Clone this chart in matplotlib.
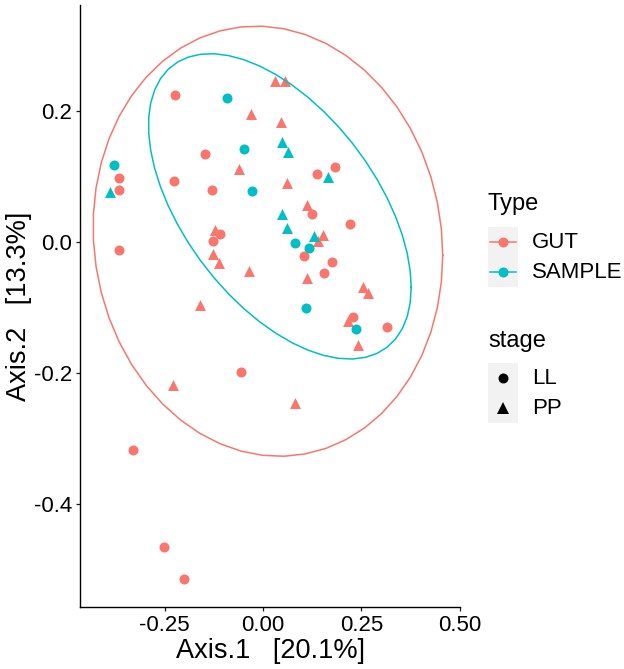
import numpy as np
import matplotlib.pyplot as plt
from matplotlib.lines import Line2D
from matplotlib.patches import Rectangle

plt.rcParams['font.family'] = ['Liberation Sans', 'DejaVu Sans']

# --- data ---
# GUT, stage LL (circles)
gut_ll_x = [-0.224, -0.147, -0.366, -0.366, -0.226, -0.130, -0.109, -0.127, -0.366,
            0.137, 0.183, 0.125, 0.221, 0.104, 0.175, 0.155, 0.229, 0.315,
            -0.056, -0.331, -0.252, -0.201]
gut_ll_y = [0.225, 0.134, 0.098, 0.080, 0.093, 0.080, 0.013, 0.002, -0.012,
            0.104, 0.115, 0.043, 0.028, -0.021, -0.030, -0.047, -0.114, -0.129,
            -0.198, -0.318, -0.465, -0.514]
# GUT, stage PP (triangles)
gut_pp_x = [0.031, 0.056, -0.031, 0.046, -0.061, 0.061, 0.112, 0.153, 0.140,
            -0.122, -0.127, -0.112, -0.036, 0.112, 0.254, 0.267, 0.216, 0.242,
            -0.160, -0.229, 0.081]
gut_pp_y = [0.246, 0.246, 0.195, 0.184, 0.112, 0.091, 0.057, 0.011, 0.002,
            0.019, -0.018, -0.032, -0.044, -0.055, -0.068, -0.077, -0.120, -0.157,
            -0.096, -0.218, -0.246]
# SAMPLE, stage LL
smp_ll_x = [-0.092, -0.048, -0.379, -0.028, 0.081, 0.117, 0.109, 0.236]
smp_ll_y = [0.220, 0.142, 0.118, 0.078, -0.001, -0.009, -0.100, -0.132]
# SAMPLE, stage PP
smp_pp_x = [-0.389, 0.048, 0.064, 0.165, 0.048, 0.061, 0.130]
smp_pp_y = [0.077, 0.153, 0.138, 0.100, 0.043, 0.022, 0.010]

types = ["GUT", "SAMPLE"]
stages = ["LL", "PP"]
type_cols = {"GUT": "#F8766D", "SAMPLE": "#00BFC4"}
stage_marks = {"LL": "o", "PP": "^"}
stage_size = {"LL": 52, "PP": 62}

groups = {
    ("GUT", "LL"): (gut_ll_x, gut_ll_y),
    ("GUT", "PP"): (gut_pp_x, gut_pp_y),
    ("SAMPLE", "LL"): (smp_ll_x, smp_ll_y),
    ("SAMPLE", "PP"): (smp_pp_x, smp_pp_y),
}


# robust t covariance, same as MASS::cov.trob (used by stat_ellipse type "t")
def cov_trob(pts, nu=5, maxit=25, tol=0.01):
    n, p = pts.shape
    loc = pts.mean(axis=0)
    w = np.ones(n)
    for it in range(maxit):
        w0 = w
        X = pts - loc
        _, d, vt = np.linalg.svd(np.sqrt(w / w.sum())[:, None] * X, full_matrices=False)
        wX = X @ vt.T @ np.diag(1 / d)
        Q = (wX ** 2).sum(axis=1)
        w = (nu + p) / (nu + Q)
        loc = (w[:, None] * pts).sum(axis=0) / w.sum()
        if np.all(np.abs(w - w0) < tol):
            break
    sx = np.sqrt(w)[:, None] * X
    return loc, sx.T @ sx / n


def ellipse(pts, level=0.95, segments=51):
    dfn, dfd = 2, len(pts) - 1
    center, shape = cov_trob(pts)
    chol = np.linalg.cholesky(shape).T
    qf = dfd / 2 * ((1 - level) ** (-2 / dfd) - 1)
    radius = np.sqrt(dfn * qf)
    ang = np.linspace(0, 2 * np.pi, segments + 1)
    circ = np.column_stack([np.cos(ang), np.sin(ang)])
    return center + radius * circ @ chol


W, H = 624, 669
fig = plt.figure(figsize=(W / 100, H / 100), dpi=100)
ax = fig.add_axes([80 / W, 1 - 607 / H, 380 / W, 602 / H])

for (t, s), (gx, gy) in groups.items():
    ax.scatter(gx, gy, s=stage_size[s], marker=stage_marks[s], c=type_cols[t],
               linewidths=0, zorder=2)

for t in types:
    xs = np.concatenate([groups[(t, s)][0] for s in stages])
    ys = np.concatenate([groups[(t, s)][1] for s in stages])
    e = ellipse(np.column_stack([xs, ys]))
    ax.plot(e[:, 0], e[:, 1], color=type_cols[t], lw=1.1, zorder=3)

ax.set_xlim(-0.465, 0.501)
ax.set_ylim(-0.557, 0.362)
ax.set_xticks([-0.25, 0, 0.25, 0.5])
ax.set_xticklabels(["-0.25", "0.00", "0.25", "0.50"])
ax.set_yticks([-0.4, -0.2, 0, 0.2])
ax.set_yticklabels(["-0.4", "-0.2", "0.0", "0.2"])
ax.tick_params(labelsize=16, length=3, width=0.9, pad=2.5, colors="#1a1a1a",
               labelcolor="black")
for side in ["top", "right"]:
    ax.spines[side].set_visible(False)
for side in ["left", "bottom"]:
    ax.spines[side].set_linewidth(1.0)
    ax.spines[side].set_color("black")

fig.text(270 / W, 1 - 651 / H, "Axis.1   [20.1%]", fontsize=19.5,
         ha="center", va="center")
fig.text(19 / W, 1 - 306 / H, "Axis.2   [13.3%]", fontsize=19.5,
         ha="center", va="center", rotation=90)


# legends drawn by hand (ggplot style keys)
def fx(px):
    return px / W


def fy(py):
    return 1 - py / H


fig.text(fx(488), fy(210), "Type", fontsize=17, va="baseline")
fig.patches.append(Rectangle((fx(488), fy(287)), 30 / W, 60 / H,
                             transform=fig.transFigure, fc="#F2F2F2", ec="none"))
for i, t in enumerate(types):
    yy = fy(242 + 30 * i)
    fig.lines.append(Line2D([fx(490), fx(516)], [yy, yy], color=type_cols[t], lw=1.1,
                            transform=fig.transFigure))
    fig.lines.append(Line2D([fx(503)], [yy], marker="o", ms=7.2, color=type_cols[t],
                            mew=0, transform=fig.transFigure))
    fig.text(fx(532), yy, t, fontsize=16, va="center")

fig.text(fx(488), fy(347), "stage", fontsize=17, va="baseline")
fig.patches.append(Rectangle((fx(488), fy(423)), 30 / W, 60 / H,
                             transform=fig.transFigure, fc="#F2F2F2", ec="none"))
for i, s in enumerate(stages):
    yy = fy(378 + 30 * i)
    fig.lines.append(Line2D([fx(503)], [yy], marker=stage_marks[s],
                            ms=7.2 if s == "LL" else 8, color="black", mew=0,
                            transform=fig.transFigure))
    fig.text(fx(532), yy, s, fontsize=16, va="center")

fig.savefig("out.png", dpi=100)
